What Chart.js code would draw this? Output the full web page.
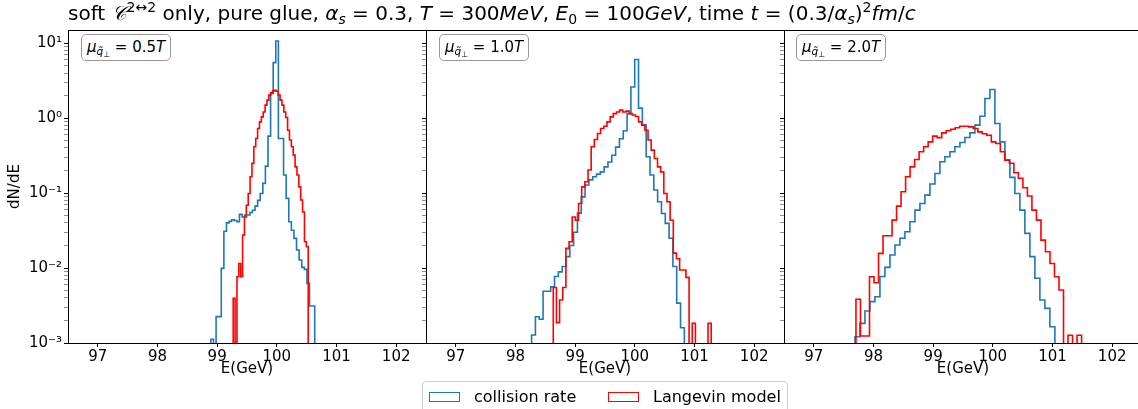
<!DOCTYPE html>
<html><head><meta charset="utf-8">
<script src="https://cdn.jsdelivr.net/npm/chart.js@4.4.1/dist/chart.umd.min.js"></script>
<style>
html,body{margin:0;padding:0;width:1138px;height:409px;overflow:hidden;background:#fff;font-family:"DejaVu Sans",sans-serif;color:#000;}
.cv{position:absolute;top:0;}
#title{position:absolute;left:68px;top:1px;font-size:20px;white-space:nowrap;}
#title sup,#title sub,.ann sub{font-size:70%;line-height:0;}
#title sup{vertical-align:0.55em;}
#title sub{vertical-align:-0.25em;}
.ann{position:absolute;top:34px;height:27px;box-sizing:border-box;border:1px solid #999;border-radius:5px;background:#fff;font-size:15px;line-height:25px;padding:0 5px 0 5px;white-space:nowrap;}
.ann sub{vertical-align:-0.3em;}
.ann sub sub{font-size:75%;vertical-align:-0.2em;}
#legend{position:absolute;left:422px;top:381px;width:366px;height:34px;box-sizing:border-box;border:1px solid #ccc;border-radius:4px;background:rgba(255,255,255,0.8);font-size:16px;}
#legend .patch{position:absolute;top:10px;width:31px;height:10px;border:1.6px solid;box-sizing:border-box;}
#legend .lt{position:absolute;top:5px;white-space:nowrap;}
</style></head>
<body>
<div class="cv" style="left:0px"><canvas id="c1" width="430" height="409"></canvas></div>
<div class="cv" style="left:420px"><canvas id="c2" width="368" height="409"></canvas></div>
<div class="cv" style="left:778px"><canvas id="c3" width="368" height="409"></canvas></div>
<div id="title">soft <i>𝒞</i><sup>2↔2</sup> only, pure glue, <i>α<sub>s</sub></i> = 0.3, <i>T</i> = 300<i>MeV</i>, <i>E</i><sub>0</sub> = 100<i>GeV</i>, time <i>t</i> = (0.3/<i>α<sub>s</sub></i>)<sup>2</sup><i>fm</i>/<i>c</i></div>
<div class="ann" style="left:81px"><i>μ</i><sub><i>q̃</i><sub>⊥</sub></sub> = 0.5<i>T</i></div>
<div class="ann" style="left:439px"><i>μ</i><sub><i>q̃</i><sub>⊥</sub></sub> = 1.0<i>T</i></div>
<div class="ann" style="left:796px"><i>μ</i><sub><i>q̃</i><sub>⊥</sub></sub> = 2.0<i>T</i></div>
<div id="legend">
  <span class="patch" style="left:6px;border-color:#1f77b4"></span><span class="lt" style="left:51px">collision rate</span>
  <span class="patch" style="left:185px;border-color:#ff0000"></span><span class="lt" style="left:230px">Langevin model</span>
</div>
<script>
// ---- data (bin ranges and bin heights) ----
const xTicks = [97, 98, 99, 100, 101, 102];
const yMajorTicks = [1e-3, 1e-2, 1e-1, 1, 10];
const panelLabels = ['0.5T', '1.0T', '2.0T'];
const seriesNames = ['collision rate', 'Langevin model'];

const p1CollisionRange = [98.895, 100.635];
const p1Collision = [0.00112, 0, 0.00225, 0.00225, 0.0099, 0.031, 0.040, 0.042, 0.044, 0.043,
  0.0415, 0.052, 0.048, 0.051, 0.051, 0.055, 0.059, 0.067, 0.080, 0.099,
  0.135, 0.229, 0.575, 2.13, 5.5, 10.7, 0.536, 0.536, 0.174, 0.085,
  0.0415, 0.032, 0.0249, 0.0174, 0.0128, 0.0102, 0.0096, 0.00625, 0.00311, 0.00311];
const p1LangevinRange = [99.269, 100.526];
const p1Langevin = [0.00394, 0, 0.00766, 0.0115, 0.00766, 0.0275, 0.048, 0.069, 0.099, 0.165,
  0.249, 0.415, 0.536, 0.728, 0.893, 1.04, 1.21, 1.49, 1.74, 2.03,
  2.18, 2.31, 2.36, 2.29, 2.03, 1.74, 1.49, 1.21, 1.02, 0.69,
  0.51, 0.415, 0.321, 0.224, 0.174, 0.121, 0.081, 0.056, 0.0224, 0.0192];

const p2CollisionRange = [98.27, 100.83];
const p2Collision = [0.00128, 0.00224, 0.00207, 0.0049, 0.0049, 0.0056, 0.0077, 0.0089, 0.0105, 0.0142,
  0.020, 0.030, 0.054, 0.089, 0.128, 0.15, 0.165, 0.179, 0.192, 0.224,
  0.26, 0.32, 0.41, 0.53, 0.68, 1.15, 2.6, 6.05, 1.36, 0.806,
  0.305, 0.174, 0.11, 0.0766, 0.0535, 0.0394, 0.025, 0.0105, 0.0034, 0.0016];
const p2LangevinRange = [98.633, 101.28];
const p2Langevin = [0.0055, 0.00187, 0.00374, 0.0055, 0.0183, 0.0224, 0.048, 0.0434, 0.0728, 0.121,
  0.142, 0.203, 0.415, 0.52, 0.625, 0.728, 0.78, 0.893, 1.04, 1.15,
  1.21, 1.28, 1.21, 1.24, 1.15, 1.10, 1.05, 0.893, 0.806, 0.69,
  0.51, 0.374, 0.29, 0.224, 0.192, 0.099, 0.0766, 0.0434, 0.0158, 0.0133,
  0.0094, 0.0094, 0.0075, 0, 0.00183, 0, 0, 0, 0, 0.00183];

const p3CollisionRange = [97.689, 101.04];
const p3Collision = [0.00121, 0.00183, 0.00267, 0.00356, 0.00415, 0.0077, 0.0102, 0.0149, 0.0203, 0.025,
  0.0305, 0.0415, 0.0593, 0.0728, 0.094, 0.132, 0.183, 0.262, 0.305, 0.356,
  0.415, 0.474, 0.552, 0.637, 0.807, 1.06, 1.83, 2.41, 0.85, 0.483,
  0.275, 0.162, 0.099, 0.0593, 0.029, 0.0142, 0.0073, 0.00374, 0.0029, 0.00165];
const p3LangevinRange = [97.706, 101.487];
const p3Langevin = [0.00383, 0.00124, 0.00124, 0.00766, 0.00637, 0.0157, 0.027, 0.027, 0.0436, 0.067,
  0.104, 0.165, 0.224, 0.281, 0.356, 0.415, 0.483, 0.575, 0.55, 0.637,
  0.678, 0.71, 0.745, 0.78, 0.78, 0.765, 0.727, 0.655, 0.62, 0.59,
  0.483, 0.46, 0.356, 0.275, 0.25, 0.187, 0.158, 0.118, 0.0913, 0.0593,
  0.0436, 0.0236, 0.0165, 0.0115, 0.00766, 0.0051, 0, 0.00127, 0, 0.00127];

// ---- rendering ----
const FONT = 'DejaVu Sans';
const BLUE = '#1f77b4', RED = '#ff0000';
const Y_MIN = 1e-3, Y_MAX = 15, FLOOR = 1e-6;

function histPoints(range, values) {
  const [start, end] = range;
  const w = (end - start) / values.length;
  const pts = [{x: start, y: FLOOR}];
  values.forEach((v, i) => pts.push({x: start + i * w, y: v > 0 ? v : FLOOR}));
  const last = values[values.length - 1];
  pts.push({x: end, y: last > 0 ? last : FLOOR});
  pts.push({x: end, y: FLOOR});
  return pts;
}
const supMap = {'-': '⁻', '0': '⁰', '1': '¹', '2': '²', '3': '³', '4': '⁴'};
function isMajor(v) { return yMajorTicks.some(m => Math.abs(v / m - 1) < 1e-6); }
function powLabel(v) {
  const e = String(Math.round(Math.log10(v)));
  return '10' + e.split('').map(c => supMap[c]).join('');
}
const yTickValues = [];
yMajorTicks.forEach(m => { for (let k = 1; k <= 9; k++) { const v = m * k; if (v <= Y_MAX) yTickValues.push(v); } });

const frame = {
  id: 'frame',
  afterDraw(chart) {
    const {ctx, chartArea: a} = chart;
    ctx.save();
    ctx.strokeStyle = '#000';
    ctx.lineWidth = 1;
    ctx.strokeRect(Math.round(a.left) + 0.5, Math.round(a.top) + 0.5,
      Math.round(a.right - a.left), Math.round(a.bottom - a.top));
    ctx.restore();
  }
};

function makeChart(id, collRange, coll, langRange, lang, first) {
  return new Chart(document.getElementById(id), {
    type: 'line',
    data: {
      datasets: [
        {label: seriesNames[0], data: histPoints(collRange, coll), borderColor: BLUE, borderWidth: 1.6,
         pointRadius: 0, stepped: true, fill: false, order: 1, borderJoinStyle: 'miter'},
        {label: seriesNames[1], data: histPoints(langRange, lang), borderColor: RED, borderWidth: 1.6,
         pointRadius: 0, stepped: true, fill: false, order: 0, borderJoinStyle: 'miter'}
      ]
    },
    options: {
      responsive: false, animation: false, events: [],
      layout: {padding: {top: 30, right: 4, bottom: 26, left: 0}},
      plugins: {legend: {display: false}, tooltip: {enabled: false}, title: {display: false}},
      scales: {
        x: {
          type: 'linear', min: 96.5, max: 102.5,
          afterBuildTicks: s => { s.ticks = xTicks.map(v => ({value: v})); },
          afterFit: s => { s.height = 40; },
          ticks: {autoSkip: false, maxRotation: 0, padding: 1, color: '#000',
                  font: {family: FONT, size: 15}, callback: v => String(v)},
          grid: {drawOnChartArea: false, drawTicks: true, tickLength: 4, color: '#000', lineWidth: 1},
          border: {display: false},
          title: {display: true, text: 'E(GeV)', color: '#000', font: {family: FONT, size: 15},
                  padding: {top: 0, bottom: 5}}
        },
        y: {
          type: 'logarithmic', min: Y_MIN, max: Y_MAX,
          afterBuildTicks: s => { s.ticks = yTickValues.map(v => ({value: v})); },
          afterFit: s => { s.width = first ? 68 : 6; },
          ticks: {autoSkip: false, padding: 2, color: '#000', font: {family: FONT, size: 15},
                  callback: v => (first && isMajor(v)) ? powLabel(v) : ''},
          grid: {drawOnChartArea: false, drawTicks: true, tickLength: 4,
                 tickColor: c => (c.tick && isMajor(c.tick.value)) ? '#000' : '#444',
                 tickWidth: c => (c.tick && isMajor(c.tick.value)) ? 1 : 0.6},
          border: {display: false},
          title: {display: first, text: 'dN/dE', color: '#000', font: {family: FONT, size: 15},
                  padding: {top: 6, bottom: 0}}
        }
      }
    },
    plugins: [frame]
  });
}

makeChart('c1', p1CollisionRange, p1Collision, p1LangevinRange, p1Langevin, true);
makeChart('c2', p2CollisionRange, p2Collision, p2LangevinRange, p2Langevin, false);
makeChart('c3', p3CollisionRange, p3Collision, p3LangevinRange, p3Langevin, false);
</script>
</body></html>
